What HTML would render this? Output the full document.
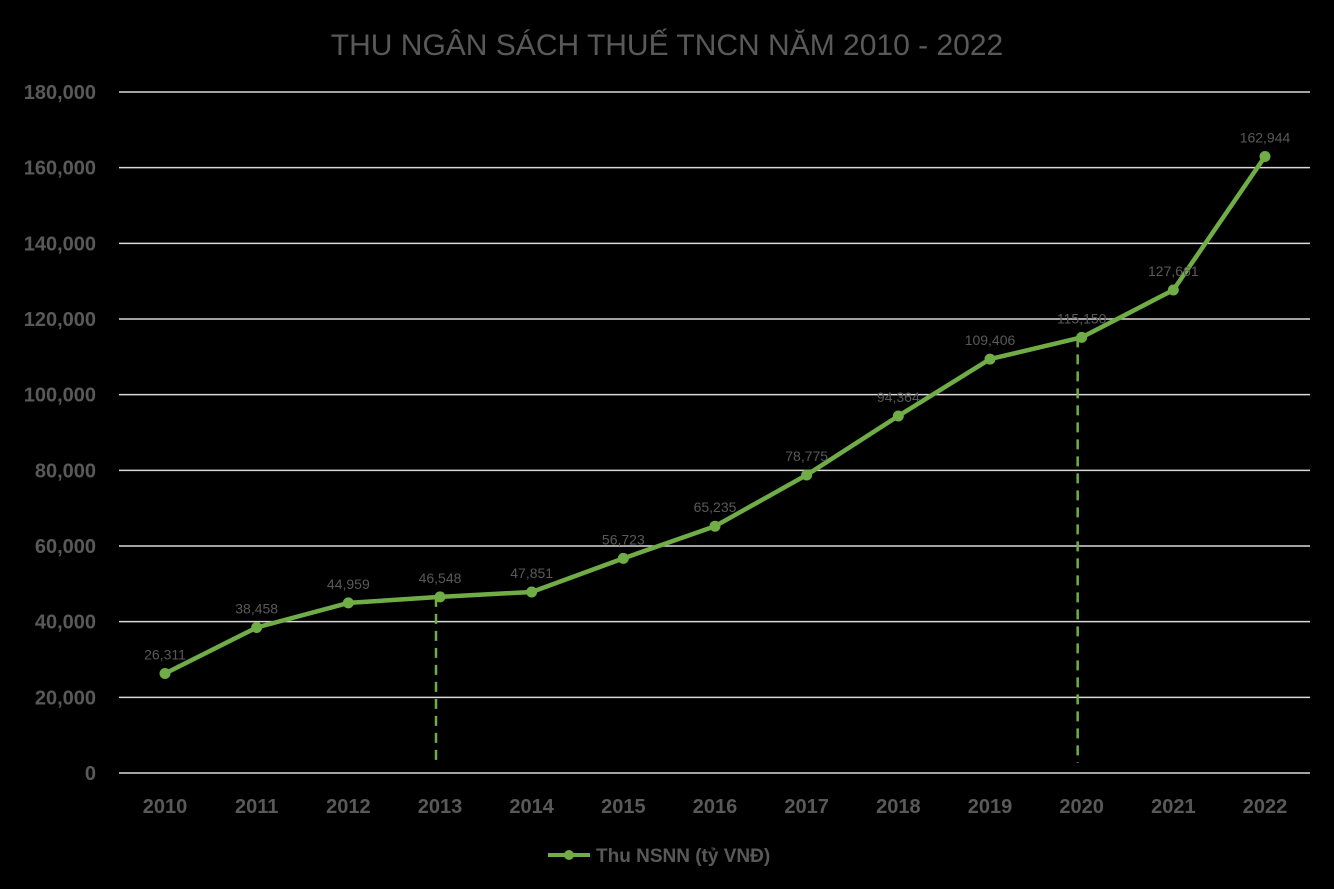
<!DOCTYPE html>
<html><head><meta charset="utf-8"><style>
body{margin:0;background:#000;}
svg{display:block;font-family:"Liberation Sans",sans-serif;}
</style></head><body>
<svg id="chart" width="1334" height="889">
<rect width="1334" height="889" fill="#000"/>
<text x="667" y="55" text-anchor="middle" font-size="30" fill="#595959">THU NGÂN SÁCH THUẾ TNCN NĂM 2010 - 2022</text>
<g id="grid"></g><g id="plot"></g>
<g>
<line x1="548" y1="855" x2="590" y2="855" stroke="#70ad47" stroke-width="4"/>
<circle cx="569" cy="855" r="5" fill="#70ad47"/>
<text x="596" y="862" font-size="19" font-weight="bold" fill="#595959">Thu NSNN (tỷ VNĐ)</text>
</g>
</svg>
<script>
const categories=["2010","2011","2012","2013","2014","2015","2016","2017","2018","2019","2020","2021","2022"];
const values=[26311,38458,44959,46548,47851,56723,65235,78775,94364,109406,115150,127661,162944];
const yTicks=[0,20000,40000,60000,80000,100000,120000,140000,160000,180000];
const dashedYears=["2013","2020"];
const NS="http://www.w3.org/2000/svg";
const x=i=>165+i*(1100/(categories.length-1));
const y=v=>773-v*(681/180000);
function mk(tag,attrs,parent){const e=document.createElementNS(NS,tag);for(const k in attrs)e.setAttribute(k,attrs[k]);parent.appendChild(e);return e;}
const grid=document.getElementById('grid'),plot=document.getElementById('plot');
yTicks.forEach(t=>{
 const l=mk('line',{x1:119,x2:1310,y1:y(t),y2:y(t),stroke:'#d9d9d9','stroke-width':1.5},grid);
 
 
 const tx=mk('text',{x:96,y:y(t)+7,'text-anchor':'end','font-size':20,'font-weight':'bold',fill:'#595959'},grid);
 tx.textContent=t.toLocaleString('en-US');
 
 
});
categories.forEach((c,i)=>{
 const tx=mk('text',{x:x(i),y:813,'text-anchor':'middle','font-size':20,'font-weight':'bold',fill:'#595959'},grid);
 tx.textContent=c;
 
 
});
dashedYears.forEach(yr=>{
 const i=categories.indexOf(yr);
 const d=mk('line',{x1:x(i)-4,x2:x(i)-4,y1:y(values[i]),y2:763,stroke:'#70ad47','stroke-width':2.5,'stroke-dasharray':'10,7'},plot);
 
 
});
const p=mk('polyline',{points:values.map((v,i)=>x(i)+','+y(v)).join(' '),fill:'none',stroke:'#70ad47','stroke-width':4.5,'stroke-linejoin':'round'},plot);


values.forEach((v,i)=>{
 const c=mk('circle',{cx:x(i),cy:y(v),r:5.5,fill:'#70ad47'},plot);
 
 
 const t=mk('text',{x:x(i),y:y(v)-14,'text-anchor':'middle','font-size':14,fill:'#595959'},plot);
 t.textContent=v.toLocaleString('en-US');
 
 
});
</script>
</body></html>
